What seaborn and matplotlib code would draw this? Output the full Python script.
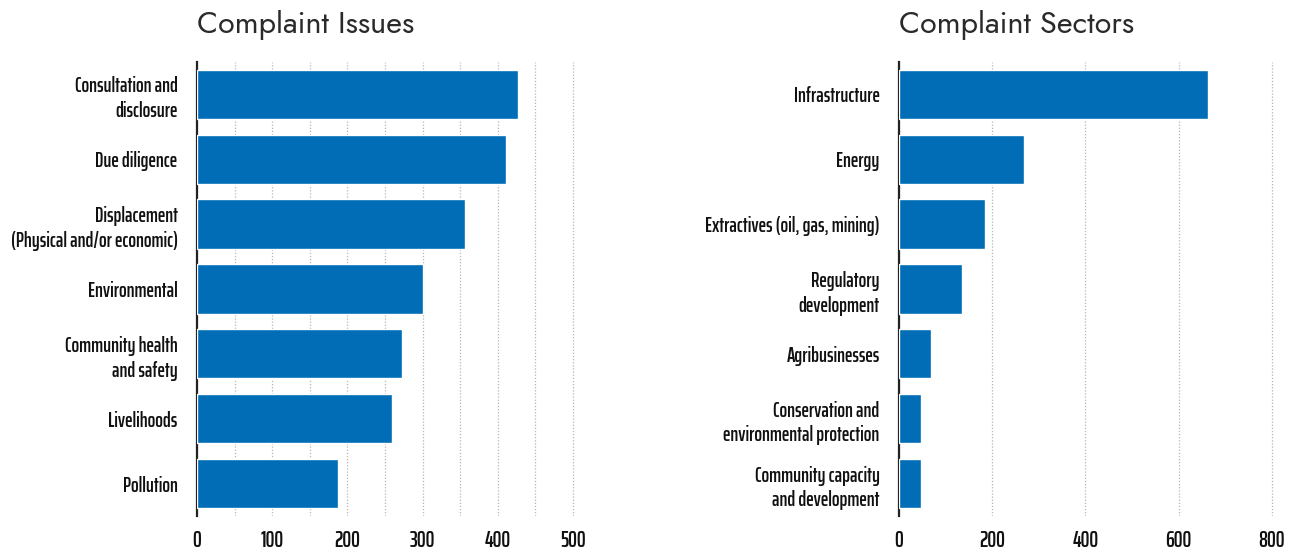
import matplotlib
matplotlib.use("Agg")
import matplotlib.pyplot as plt
import seaborn as sns
import pandas as pd
from matplotlib.ticker import MultipleLocator

issues = ["Consultation and\ndisclosure", "Due diligence",
          "Displacement\n(Physical and/or economic)", "Environmental",
          "Community health\nand safety", "Livelihoods", "Pollution"]
issue_counts = [427, 411, 356, 300, 273, 260, 187]

sectors = ["Infrastructure", "Energy", "Extractives (oil, gas, mining)",
           "Regulatory\ndevelopment", "Agribusinesses",
           "Conservation and\nenvironmental protection",
           "Community capacity\nand development"]
sector_counts = [663, 268, 185, 135, 69, 47, 47]

sns.set_theme(style="white")
plt.rcParams['font.family'] = ['Saira ExtraCondensed', 'DejaVu Sans']

BLUE = "#006db6"
fig = plt.figure(figsize=(12.96, 5.56), dpi=100)
ax1 = fig.add_axes([0.152, 0.072, 0.293, 0.8165])
ax2 = fig.add_axes([0.6937, 0.072, 0.2913, 0.8165])

df1 = pd.DataFrame({"issue": issues, "count": issue_counts})
df2 = pd.DataFrame({"sector": sectors, "count": sector_counts})

sns.barplot(data=df1, x="count", y="issue", color=BLUE, saturation=1,
            width=0.76, ax=ax1, zorder=3)
sns.barplot(data=df2, x="count", y="sector", color=BLUE, saturation=1,
            width=0.76, ax=ax2, zorder=3)

for ax, xmax, major, minor, title in [
        (ax1, 505, 100, 50, "Complaint Issues"),
        (ax2, 810, 200, None, "Complaint Sectors")]:
    ax.set_xlim(0, xmax)
    ax.xaxis.set_major_locator(MultipleLocator(major))
    if minor:
        ax.xaxis.set_minor_locator(MultipleLocator(minor))
        ax.grid(True, axis="x", which="minor", color="#b5b5b5",
                linestyle=(0, (1, 1.5)), linewidth=0.9, zorder=0)
    ax.grid(True, axis="x", which="major", color="#b5b5b5",
            linestyle=(0, (1, 1.5)), linewidth=0.9, zorder=0)
    ax.set_axisbelow(True)
    for s in ["top", "right", "bottom"]:
        ax.spines[s].set_visible(False)
    ax.spines["left"].set_color("#222222")
    ax.spines["left"].set_linewidth(1.6)
    ax.set_xlabel("")
    ax.set_ylabel("")
    ax.tick_params(axis="both", which="both", length=0)
    ax.tick_params(axis="y", pad=14, labelsize=14.5, labelcolor="#111111")
    ax.tick_params(axis="x", pad=10, labelsize=16, labelcolor="#111111")
    for lbl in ax.get_yticklabels() + ax.get_xticklabels():
        lbl.set_fontweight(600)
        lbl.set_linespacing(1.3)
    ax.set_title(title, loc="left", pad=21, fontsize=22,
                 family=["Jost", "DejaVu Sans"], fontweight="normal",
                 color="#2a2a2a")
    ax.title.set_x(-0.006 if ax is ax1 else -0.025)

fig.savefig("out.png", dpi=100)
